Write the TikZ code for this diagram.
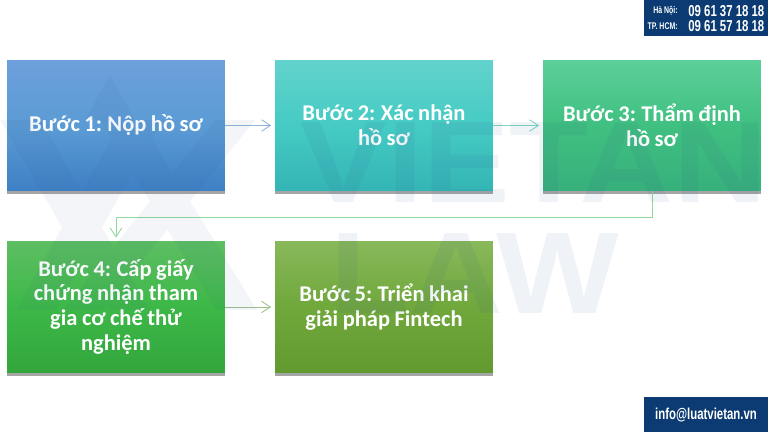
\documentclass[tikz,border=0pt]{standalone}
\usepackage{fontspec}
\setmainfont{Carlito}
\newfontfamily\bannerfont[FakeStretch=0.72]{Liberation Sans}
\newfontfamily\markfont{Liberation Sans}
\usepackage{tikz}
\usetikzlibrary{arrows.meta,shadows}
\definecolor{navy}{HTML}{0B3B72}
\definecolor{markgrey}{RGB}{50,85,140}
\definecolor{oneA}{RGB}{109,160,220}
\definecolor{oneB}{RGB}{91,155,213}
\definecolor{oneC}{RGB}{62,128,196}
\definecolor{twoA}{RGB}{98,211,204}
\definecolor{twoB}{RGB}{69,203,196}
\definecolor{twoC}{RGB}{52,181,181}
\definecolor{threeA}{RGB}{93,207,154}
\definecolor{threeB}{RGB}{63,192,128}
\definecolor{threeC}{RGB}{55,176,124}
\definecolor{fourA}{RGB}{93,190,98}
\definecolor{fourB}{RGB}{61,184,72}
\definecolor{fourC}{RGB}{51,166,60}
\definecolor{fiveA}{RGB}{136,184,90}
\definecolor{fiveB}{RGB}{112,168,60}
\definecolor{fiveC}{RGB}{99,154,48}

\begin{document}
\begin{tikzpicture}[x=0.02cm,y=-0.02cm,
    stepbox/.style ={rectangle, minimum width=4.36cm, minimum height=2.62cm, text width=4.1cm,
      align=center, text=white, font=\fontsize{12.8}{14.2}\selectfont\bfseries,
      execute at begin node={\spaceskip=0.2em\relax\xspaceskip=0.24em\relax},
      drop shadow={shadow xshift=0pt, shadow yshift=-2pt, opacity=0.7}},
    shade3/.style n args={3}{top color=#1, bottom color=#3, middle color=#2},
    link/.style ={-{Straight Barb[length=5pt,width=6.5pt]}, line width=0.5pt, shorten >=2pt},
    banner/.style ={fill=navy, inner sep=0pt, minimum width=2.48cm, minimum height=0.72cm},
    bannertext/.style ={text=white, inner sep=0pt, font=\fontsize{9}{9}\selectfont\bfseries\bannerfont},
    bannerlabel/.style ={text=white, inner sep=0pt, anchor=east, font=\fontsize{5.5}{5.5}\selectfont\bfseries\bannerfont},
    watermark/.style ={text=markgrey, text opacity=0.08, inner sep=0pt, anchor=south west,
      font=\fontsize{66}{66}\selectfont\bfseries\markfont}]
   \useasboundingbox (0,0) rectangle (768,432);

   \node[stepbox, shade3={oneA}{oneB}{oneC}] (A) at (116,125.5)  {Bước 1: Nộp hồ sơ};
   \node[stepbox, shade3={twoA}{twoB}{twoC}] (B) at (384,125.5)  {Bước 2: Xác nhận\\hồ sơ};
   \node[stepbox, shade3={threeA}{threeB}{threeC}] (C) at (652,125.5)  {Bước 3: Thẩm định\\hồ sơ};
   \node[stepbox, shade3={fourA}{fourB}{fourC}] (D) at (116,307)  {Bước 4: Cấp giấy\\chứng nhận tham\\gia cơ chế thử\\nghiệm};
   \node[stepbox, shade3={fiveA}{fiveB}{fiveC}] (E) at (384,307)  {Bước 5: Triển khai\\giải pháp Fintech};
   \coordinate (F) at (652,217);

   \draw[link, color={rgb,255:red,143;green,180;blue,220}] (A) to (B);
   \draw[link, color={rgb,255:red,127;green,216;blue,190}] (B) to (C);
   \draw[link, color={rgb,255:red,143;green,216;blue,160}] (C) -- (F) -| (D);
   \draw[link, color={rgb,255:red,156;green,192;blue,140}] (D) to (E);

   % logo behind the words
   \fill[markgrey, fill opacity=0.06] (110,75) -- (135,120) -- (85,120) -- cycle
     (0,120) -- (40,120) -- (150,310) -- (110,310) -- cycle
     (100,120) -- (140,120) -- (257,310) -- (217,310) -- cycle
     (122,120) -- (162,120) -- (56,310) -- (16,310) -- cycle
     (215,120) -- (255,120) -- (103,310) -- (63,310) -- cycle;
   \node[watermark, xscale=1.12] (G) at (300,203) {VIETAN};
   \node[watermark, xscale=1.12] (H) at (330,314) {LAW};

   \node[banner] (I) at (706,18) {};
   \node[banner] (J) at (706,414.5) {};
   \node[bannerlabel] (K) at (678,11) {Hà Nội:};
   \node[bannerlabel] (L) at (678,26) {TP. HCM:};
   \node[bannertext, anchor=west] (M) at (688,11) {09 61 37 18 18};
   \node[bannertext, anchor=west] (N) at (688,26) {09 61 57 18 18};
   \node[bannertext] (O) at (706,415) {info@luatvietan.vn};
 \end{tikzpicture}
\end{document}
